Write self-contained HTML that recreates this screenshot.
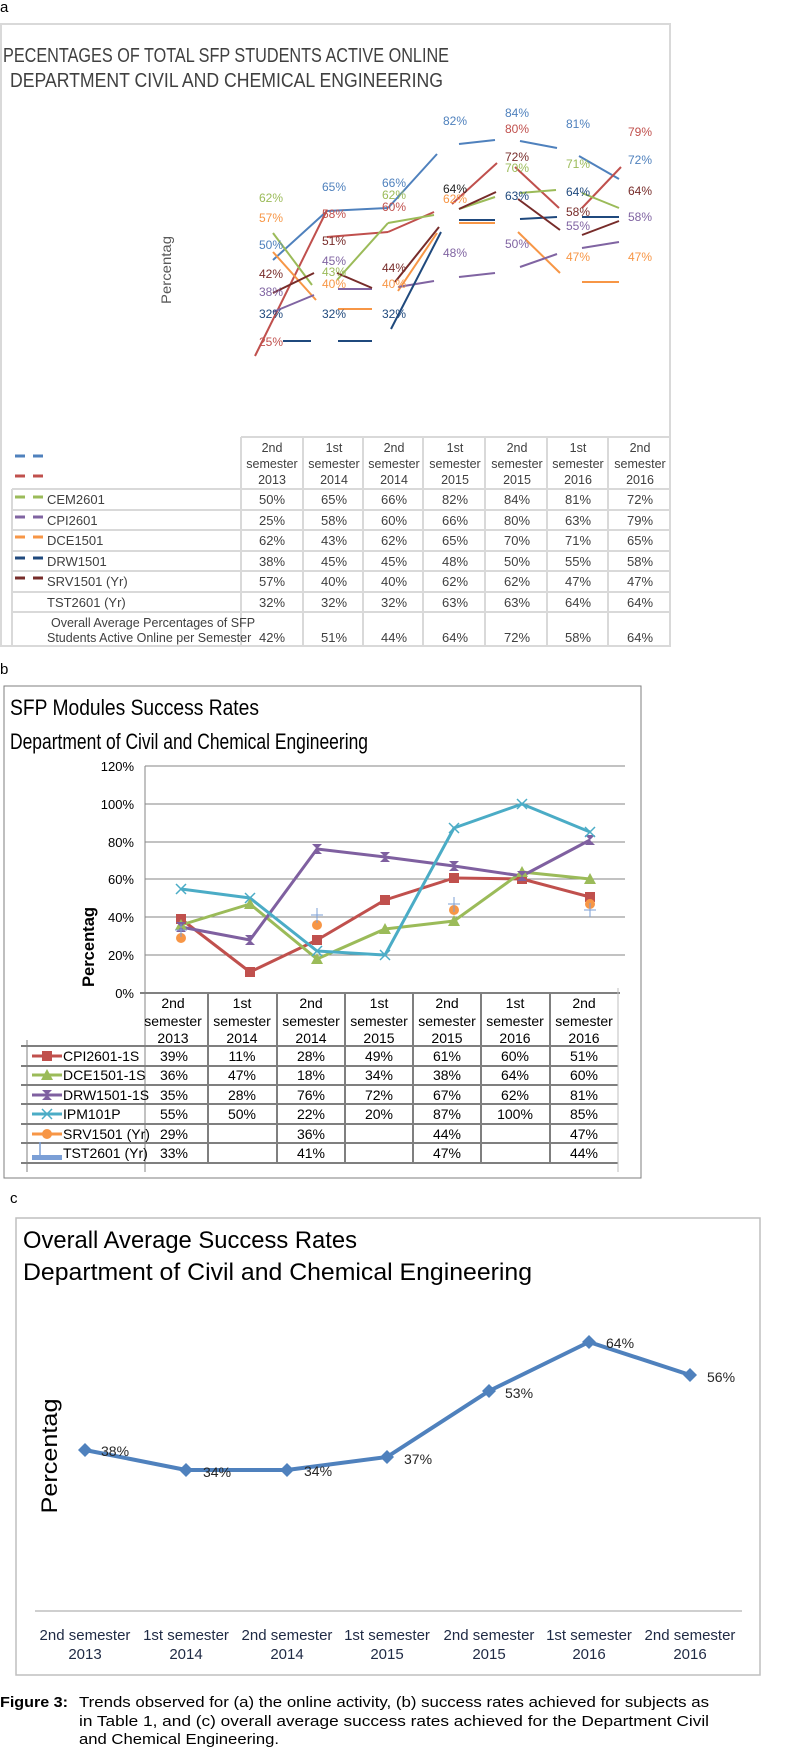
<!DOCTYPE html>
<html><head><meta charset="utf-8"><style>
html,body{margin:0;padding:0;background:#fff}
svg{display:block}
text{font-family:"Liberation Sans Narrow","Liberation Sans",sans-serif}
.c{font-family:"Liberation Sans",sans-serif}
</style></head><body>
<svg width="800" height="1763" viewBox="0 0 800 1763" xmlns="http://www.w3.org/2000/svg">
<!-- ================= PANEL A ================= -->
<text x="0" y="12" font-size="15" class="c" fill="#000">a</text>
<rect x="1" y="24" width="669" height="622" fill="#fff" stroke="#d9d9d9" stroke-width="2"/>
<text x="3" y="62" font-size="20" fill="#404040" textLength="446" lengthAdjust="spacingAndGlyphs">PECENTAGES OF TOTAL SFP STUDENTS ACTIVE ONLINE</text>
<text x="10" y="87" font-size="20" fill="#404040" textLength="433" lengthAdjust="spacingAndGlyphs">DEPARTMENT   CIVIL  AND  CHEMICAL ENGINEERING</text>
<text transform="translate(171,270) rotate(-90)" font-size="14" fill="#595959" text-anchor="middle" class="c" textLength="68" lengthAdjust="spacingAndGlyphs">Percentag</text>
<g stroke-width="2" fill="none" stroke-linecap="butt">
<!-- blue -->
<g stroke="#4f81bd"><line x1="273" y1="260" x2="327" y2="211"/><line x1="327" y1="211" x2="388" y2="208"/><line x1="388" y1="208" x2="437" y2="154"/><line x1="459" y1="144" x2="495" y2="140"/><line x1="520" y1="141" x2="557" y2="148"/><line x1="579" y1="156" x2="619" y2="179"/></g>
<!-- red -->
<g stroke="#c0504d"><line x1="255" y1="356" x2="327" y2="210"/><line x1="327" y1="237" x2="388" y2="232"/><line x1="388" y1="232" x2="434" y2="212"/><line x1="452" y1="204" x2="497" y2="163"/><line x1="515" y1="167" x2="559" y2="208"/><line x1="582" y1="208" x2="621" y2="167"/></g>
<!-- green -->
<g stroke="#9bbb59"><line x1="273" y1="233" x2="312" y2="285"/><line x1="337" y1="280" x2="388" y2="223"/><line x1="388" y1="223" x2="434" y2="215"/><line x1="459" y1="209" x2="495" y2="197"/><line x1="520" y1="193" x2="556" y2="190"/><line x1="582" y1="193" x2="619" y2="208"/></g>
<!-- orange -->
<g stroke="#f79646"><line x1="273" y1="252" x2="316" y2="300"/><line x1="338" y1="309" x2="372" y2="309"/><line x1="398" y1="291" x2="437" y2="233"/><line x1="459" y1="223" x2="495" y2="223"/><line x1="518" y1="232" x2="560" y2="273"/><line x1="582" y1="282" x2="619" y2="282"/></g>
<!-- purple -->
<g stroke="#8064a2"><line x1="273" y1="312" x2="314" y2="295"/><line x1="338" y1="289" x2="372" y2="289"/><line x1="398" y1="287" x2="434" y2="281"/><line x1="459" y1="277" x2="495" y2="273"/><line x1="520" y1="267" x2="557" y2="254"/><line x1="582" y1="248" x2="619" y2="242"/></g>
<!-- navy -->
<g stroke="#1f497d"><line x1="283" y1="341" x2="311" y2="341"/><line x1="338" y1="341" x2="372" y2="341"/><line x1="391" y1="329" x2="441" y2="232"/><line x1="459" y1="220" x2="495" y2="220"/><line x1="520" y1="219" x2="557" y2="217"/><line x1="582" y1="217" x2="619" y2="217"/></g>
<!-- dark red -->
<g stroke="#772c2a"><line x1="273" y1="293" x2="314" y2="273"/><line x1="337" y1="273" x2="372" y2="288"/><line x1="395" y1="282" x2="439" y2="227"/><line x1="459" y1="209" x2="496" y2="192"/><line x1="518" y1="199" x2="560" y2="230"/><line x1="582" y1="235" x2="619" y2="221"/></g>
</g>
<g font-size="12" text-anchor="middle">
<text x="271" y="202" fill="#9bbb59">62%</text><text x="271" y="222" fill="#f79646">57%</text><text x="271" y="249" fill="#4f81bd">50%</text><text x="271" y="278" fill="#772c2a">42%</text><text x="271" y="296" fill="#8064a2">38%</text><text x="271" y="318" fill="#1f497d">32%</text><text x="271" y="346" fill="#c0504d">25%</text>
<text x="334" y="191" fill="#4f81bd">65%</text><text x="334" y="218" fill="#c0504d">58%</text><text x="334" y="245" fill="#772c2a">51%</text><text x="334" y="265" fill="#8064a2">45%</text><text x="334" y="276" fill="#9bbb59">43%</text><text x="334" y="288" fill="#f79646">40%</text><text x="334" y="318" fill="#1f497d">32%</text>
<text x="394" y="187" fill="#4f81bd">66%</text><text x="394" y="199" fill="#9bbb59">62%</text><text x="394" y="211" fill="#c0504d">60%</text><text x="394" y="272" fill="#772c2a">44%</text><text x="394" y="288" fill="#f79646">40%</text><text x="394" y="318" fill="#1f497d">32%</text>
<text x="455" y="125" fill="#4f81bd">82%</text><text x="455" y="193" fill="#1f1f1f">64%</text><text x="455" y="203" fill="#f79646">62%</text><text x="455" y="257" fill="#8064a2">48%</text>
<text x="517" y="117" fill="#4f81bd">84%</text><text x="517" y="133" fill="#c0504d">80%</text><text x="517" y="161" fill="#772c2a">72%</text><text x="517" y="172" fill="#9bbb59">70%</text><text x="517" y="200" fill="#1f497d">63%</text><text x="517" y="248" fill="#8064a2">50%</text>
<text x="578" y="128" fill="#4f81bd">81%</text><text x="578" y="168" fill="#9bbb59">71%</text><text x="578" y="196" fill="#1f497d">64%</text><text x="578" y="216" fill="#772c2a">58%</text><text x="578" y="230" fill="#8064a2">55%</text><text x="578" y="261" fill="#f79646">47%</text>
<text x="640" y="136" fill="#c0504d">79%</text><text x="640" y="164" fill="#4f81bd">72%</text><text x="640" y="195" fill="#772c2a">64%</text><text x="640" y="221" fill="#8064a2">58%</text><text x="640" y="261" fill="#f79646">47%</text>
</g>
<!-- table a -->
<g stroke="#d9d9d9" stroke-width="2" fill="none">
<line x1="241" y1="437" x2="670" y2="437"/>
<line x1="12" y1="489" x2="670" y2="489"/><line x1="12" y1="510" x2="670" y2="510"/><line x1="12" y1="530" x2="670" y2="530"/><line x1="12" y1="551" x2="670" y2="551"/><line x1="12" y1="571" x2="670" y2="571"/><line x1="12" y1="592" x2="670" y2="592"/><line x1="12" y1="612" x2="670" y2="612"/>
<line x1="12" y1="489" x2="12" y2="646"/>
<line x1="241" y1="437" x2="241" y2="646"/><line x1="303" y1="437" x2="303" y2="646"/><line x1="363" y1="437" x2="363" y2="646"/><line x1="423" y1="437" x2="423" y2="646"/><line x1="485" y1="437" x2="485" y2="646"/><line x1="547" y1="437" x2="547" y2="646"/><line x1="608" y1="437" x2="608" y2="646"/>
</g>
<g stroke-width="3">
<line x1="15" y1="456" x2="25" y2="456" stroke="#4f81bd"/><line x1="33" y1="456" x2="43" y2="456" stroke="#4f81bd"/>
<line x1="15" y1="476" x2="25" y2="476" stroke="#c0504d"/><line x1="33" y1="476" x2="43" y2="476" stroke="#c0504d"/>
<line x1="15" y1="497" x2="25" y2="497" stroke="#9bbb59"/><line x1="33" y1="497" x2="43" y2="497" stroke="#9bbb59"/>
<line x1="15" y1="517" x2="25" y2="517" stroke="#8064a2"/><line x1="33" y1="517" x2="43" y2="517" stroke="#8064a2"/>
<line x1="15" y1="537" x2="25" y2="537" stroke="#f79646"/><line x1="33" y1="537" x2="43" y2="537" stroke="#f79646"/>
<line x1="15" y1="558" x2="25" y2="558" stroke="#1f497d"/><line x1="33" y1="558" x2="43" y2="558" stroke="#1f497d"/>
<line x1="15" y1="578" x2="25" y2="578" stroke="#772c2a"/><line x1="33" y1="578" x2="43" y2="578" stroke="#772c2a"/>
</g>
<g font-size="12.5" fill="#404040" text-anchor="middle">
<text x="272" y="452">2nd</text><text x="272" y="468">semester</text><text x="272" y="484">2013</text>
<text x="334" y="452">1st</text><text x="334" y="468">semester</text><text x="334" y="484">2014</text>
<text x="394" y="452">2nd</text><text x="394" y="468">semester</text><text x="394" y="484">2014</text>
<text x="455" y="452">1st</text><text x="455" y="468">semester</text><text x="455" y="484">2015</text>
<text x="517" y="452">2nd</text><text x="517" y="468">semester</text><text x="517" y="484">2015</text>
<text x="578" y="452">1st</text><text x="578" y="468">semester</text><text x="578" y="484">2016</text>
<text x="640" y="452">2nd</text><text x="640" y="468">semester</text><text x="640" y="484">2016</text>
</g>
<g font-size="13" fill="#404040">
<text x="47" y="504">CEM2601</text><text x="47" y="525">CPI2601</text><text x="47" y="545">DCE1501</text><text x="47" y="566">DRW1501</text><text x="47" y="586">SRV1501 (Yr)</text><text x="47" y="607">TST2601 (Yr)</text>
<text x="51" y="627" font-size="12.5">Overall Average Percentages of SFP</text><text x="47" y="642" font-size="12.5">Students Active Online per Semester</text>
</g>
<g font-size="13" fill="#404040" text-anchor="middle">
<text x="272" y="504">50%</text><text x="334" y="504">65%</text><text x="394" y="504">66%</text><text x="455" y="504">82%</text><text x="517" y="504">84%</text><text x="578" y="504">81%</text><text x="640" y="504">72%</text>
<text x="272" y="525">25%</text><text x="334" y="525">58%</text><text x="394" y="525">60%</text><text x="455" y="525">66%</text><text x="517" y="525">80%</text><text x="578" y="525">63%</text><text x="640" y="525">79%</text>
<text x="272" y="545">62%</text><text x="334" y="545">43%</text><text x="394" y="545">62%</text><text x="455" y="545">65%</text><text x="517" y="545">70%</text><text x="578" y="545">71%</text><text x="640" y="545">65%</text>
<text x="272" y="566">38%</text><text x="334" y="566">45%</text><text x="394" y="566">45%</text><text x="455" y="566">48%</text><text x="517" y="566">50%</text><text x="578" y="566">55%</text><text x="640" y="566">58%</text>
<text x="272" y="586">57%</text><text x="334" y="586">40%</text><text x="394" y="586">40%</text><text x="455" y="586">62%</text><text x="517" y="586">62%</text><text x="578" y="586">47%</text><text x="640" y="586">47%</text>
<text x="272" y="607">32%</text><text x="334" y="607">32%</text><text x="394" y="607">32%</text><text x="455" y="607">63%</text><text x="517" y="607">63%</text><text x="578" y="607">64%</text><text x="640" y="607">64%</text>
<text x="272" y="642">42%</text><text x="334" y="642">51%</text><text x="394" y="642">44%</text><text x="455" y="642">64%</text><text x="517" y="642">72%</text><text x="578" y="642">58%</text><text x="640" y="642">64%</text>
</g>

<!-- ================= PANEL B ================= -->
<text x="0" y="674" font-size="15" class="c" fill="#000">b</text>
<rect x="4" y="686" width="637" height="492" fill="#fff" stroke="#7f7f7f" stroke-width="1"/>
<text x="10" y="715" font-size="22" fill="#000" textLength="249" lengthAdjust="spacingAndGlyphs">SFP Modules Success Rates</text>
<text x="10" y="749" font-size="22" fill="#000" textLength="358" lengthAdjust="spacingAndGlyphs">Department of Civil and Chemical Engineering</text>
<g stroke="#868686" stroke-width="1">
<line x1="145" y1="766" x2="625" y2="766"/><line x1="145" y1="804" x2="625" y2="804"/><line x1="145" y1="842" x2="625" y2="842"/><line x1="145" y1="879" x2="625" y2="879"/><line x1="145" y1="917" x2="625" y2="917"/><line x1="145" y1="955" x2="625" y2="955"/>
</g>
<line x1="145" y1="766" x2="145" y2="1172" stroke="#868686" stroke-width="1"/>
<line x1="140" y1="993" x2="620" y2="993" stroke="#808080" stroke-width="2"/>
<g font-size="13" fill="#000" text-anchor="end">
<text x="134" y="771">120%</text><text x="134" y="809">100%</text><text x="134" y="847">80%</text><text x="134" y="884">60%</text><text x="134" y="922">40%</text><text x="134" y="960">20%</text><text x="134" y="998">0%</text>
</g>
<text transform="translate(94,947) rotate(-90)" font-size="17" font-weight="bold" class="c" text-anchor="middle" textLength="80" lengthAdjust="spacingAndGlyphs">Percentag</text>
<g fill="none" stroke-width="3" stroke-linejoin="round">
<polyline stroke="#c0504d" points="181,919 250,972 317,940 385,900 454,878 522,879 590,897"/>
<polyline stroke="#9bbb59" points="181,925 250,904 317,959 385,929 454,921 522,872 590,879"/>
<polyline stroke="#7f60a0" points="181,927 250,940 317,849 385,857 454,866 522,876 590,840"/>
<polyline stroke="#4bacc6" points="181,889 250,898 317,951 385,955 454,828 522,804 590,832"/>
</g>
<g fill="#c0504d"><rect x="176" y="914" width="10" height="10"/><rect x="245" y="967" width="10" height="10"/><rect x="312" y="935" width="10" height="10"/><rect x="380" y="895" width="10" height="10"/><rect x="449" y="873" width="10" height="10"/><rect x="517" y="874" width="10" height="10"/><rect x="585" y="892" width="10" height="10"/></g>
<g fill="#9bbb59"><polygon points="181,919 187,930 175,930"/><polygon points="250,898 256,909 244,909"/><polygon points="317,953 323,964 311,964"/><polygon points="385,923 391,934 379,934"/><polygon points="454,915 460,926 448,926"/><polygon points="522,866 528,877 516,877"/><polygon points="590,873 596,884 584,884"/></g>
<g fill="#7f60a0"><polygon points="176,922 186,922 176,932 186,932"/><polygon points="245,935 255,935 245,945 255,945"/><polygon points="312,844 322,844 312,854 322,854"/><polygon points="380,852 390,852 380,862 390,862"/><polygon points="449,861 459,861 449,871 459,871"/><polygon points="517,871 527,871 517,881 527,881"/><polygon points="585,835 595,835 585,845 595,845"/></g>
<g stroke="#4bacc6" stroke-width="1.5"><path d="M176,884l10,10M186,884l-10,10M245,893l10,10M255,893l-10,10M312,946l10,10M322,946l-10,10M380,950l10,10M390,950l-10,10M449,823l10,10M459,823l-10,10M517,799l10,10M527,799l-10,10M585,827l10,10M595,827l-10,10"/></g>
<g fill="#f79646"><circle cx="181" cy="938" r="5"/><circle cx="317" cy="925" r="5"/><circle cx="454" cy="910" r="5"/><circle cx="590" cy="904" r="5"/></g>
<g stroke="#7b9fd6" stroke-width="1"><path d="M181,924v13M175,930h12M317,908v15M311,915h12M454,897v15M448,904h12M590,903v14M584,910h12"/></g>
<!-- table b -->
<g stroke="#7f7f7f" stroke-width="2">
<line x1="21" y1="1046" x2="618" y2="1046"/><line x1="21" y1="1066" x2="618" y2="1066"/><line x1="21" y1="1085" x2="618" y2="1085"/><line x1="21" y1="1104" x2="618" y2="1104"/><line x1="21" y1="1124" x2="618" y2="1124"/><line x1="21" y1="1143" x2="618" y2="1143"/><line x1="21" y1="1163" x2="618" y2="1163"/>
<line x1="208" y1="993" x2="208" y2="1163"/><line x1="277" y1="993" x2="277" y2="1163"/><line x1="345" y1="993" x2="345" y2="1163"/><line x1="413" y1="993" x2="413" y2="1163"/><line x1="481" y1="993" x2="481" y2="1163"/><line x1="550" y1="993" x2="550" y2="1163"/>
</g>
<line x1="27" y1="1040" x2="27" y2="1172" stroke="#7f7f7f" stroke-width="1"/>
<line x1="618" y1="988" x2="618" y2="1172" stroke="#bfbfbf" stroke-width="1"/>
<g font-size="14" fill="#000" text-anchor="middle">
<text x="173" y="1008">2nd</text><text x="173" y="1026">semester</text><text x="173" y="1043">2013</text>
<text x="242" y="1008">1st</text><text x="242" y="1026">semester</text><text x="242" y="1043">2014</text>
<text x="311" y="1008">2nd</text><text x="311" y="1026">semester</text><text x="311" y="1043">2014</text>
<text x="379" y="1008">1st</text><text x="379" y="1026">semester</text><text x="379" y="1043">2015</text>
<text x="447" y="1008">2nd</text><text x="447" y="1026">semester</text><text x="447" y="1043">2015</text>
<text x="515" y="1008">1st</text><text x="515" y="1026">semester</text><text x="515" y="1043">2016</text>
<text x="584" y="1008">2nd</text><text x="584" y="1026">semester</text><text x="584" y="1043">2016</text>
</g>
<!-- legend markers -->
<line x1="32" y1="1056" x2="62" y2="1056" stroke="#c0504d" stroke-width="3"/><rect x="42" y="1051" width="10" height="10" fill="#c0504d"/>
<line x1="32" y1="1075" x2="62" y2="1075" stroke="#9bbb59" stroke-width="3"/><polygon points="47,1069 53,1080 41,1080" fill="#9bbb59"/>
<line x1="32" y1="1095" x2="62" y2="1095" stroke="#7f60a0" stroke-width="3"/><polygon points="42,1090 52,1090 42,1100 52,1100" fill="#7f60a0"/>
<line x1="32" y1="1114" x2="62" y2="1114" stroke="#4bacc6" stroke-width="3"/><path d="M42,1109l10,10M52,1109l-10,10" stroke="#4bacc6" stroke-width="1.5"/>
<line x1="32" y1="1134" x2="62" y2="1134" stroke="#f79646" stroke-width="3"/><circle cx="47" cy="1134" r="5" fill="#f79646"/>
<line x1="40" y1="1142" x2="40" y2="1155" stroke="#7b9fd6" stroke-width="1.5"/><rect x="32" y="1155" width="30" height="5" fill="#7b9fd6"/>
<g font-size="14" fill="#000">
<text x="63" y="1061">CPI2601-1S</text><text x="63" y="1080">DCE1501-1S</text><text x="63" y="1100">DRW1501-1S</text><text x="63" y="1119">IPM101P</text><text x="63" y="1139">SRV1501 (Yr)</text><text x="63" y="1158">TST2601 (Yr)</text>
</g>
<g font-size="14" fill="#000" text-anchor="middle">
<text x="174" y="1061">39%</text><text x="242" y="1061">11%</text><text x="311" y="1061">28%</text><text x="379" y="1061">49%</text><text x="447" y="1061">61%</text><text x="515" y="1061">60%</text><text x="584" y="1061">51%</text>
<text x="174" y="1080">36%</text><text x="242" y="1080">47%</text><text x="311" y="1080">18%</text><text x="379" y="1080">34%</text><text x="447" y="1080">38%</text><text x="515" y="1080">64%</text><text x="584" y="1080">60%</text>
<text x="174" y="1100">35%</text><text x="242" y="1100">28%</text><text x="311" y="1100">76%</text><text x="379" y="1100">72%</text><text x="447" y="1100">67%</text><text x="515" y="1100">62%</text><text x="584" y="1100">81%</text>
<text x="174" y="1119">55%</text><text x="242" y="1119">50%</text><text x="311" y="1119">22%</text><text x="379" y="1119">20%</text><text x="447" y="1119">87%</text><text x="515" y="1119">100%</text><text x="584" y="1119">85%</text>
<text x="174" y="1139">29%</text><text x="311" y="1139">36%</text><text x="447" y="1139">44%</text><text x="584" y="1139">47%</text>
<text x="174" y="1158">33%</text><text x="311" y="1158">41%</text><text x="447" y="1158">47%</text><text x="584" y="1158">44%</text>
</g>

<!-- ================= PANEL C ================= -->
<text x="10" y="1203" font-size="15" class="c" fill="#000">c</text>
<rect x="16" y="1218" width="744" height="457" fill="#fff" stroke="#bfbfbf" stroke-width="1.5"/>
<text x="23" y="1248" font-size="24" fill="#000" textLength="334" lengthAdjust="spacingAndGlyphs">Overall Average Success Rates</text>
<text x="23" y="1280" font-size="24" fill="#000" textLength="509" lengthAdjust="spacingAndGlyphs">Department of Civil and Chemical Engineering</text>
<text transform="translate(57,1456) rotate(-90)" font-size="22" class="c" text-anchor="middle" fill="#000" textLength="115" lengthAdjust="spacingAndGlyphs">Percentag</text>
<line x1="35" y1="1611" x2="742" y2="1611" stroke="#bfbfbf" stroke-width="1.5"/>
<polyline fill="none" stroke="#4f81bd" stroke-width="4" stroke-linejoin="round" points="85,1450 186,1470 287,1470 387,1457 489,1391 589,1342 690,1375"/>
<g fill="#4f81bd">
<polygon points="85,1443 92,1450 85,1457 78,1450"/><polygon points="186,1463 193,1470 186,1477 179,1470"/><polygon points="287,1463 294,1470 287,1477 280,1470"/><polygon points="387,1450 394,1457 387,1464 380,1457"/><polygon points="489,1384 496,1391 489,1398 482,1391"/><polygon points="589,1335 596,1342 589,1349 582,1342"/><polygon points="690,1368 697,1375 690,1382 683,1375"/>
</g>
<g font-size="14" fill="#262626" class="c">
<text x="101" y="1456">38%</text><text x="203" y="1477">34%</text><text x="304" y="1476">34%</text><text x="404" y="1464">37%</text><text x="505" y="1398">53%</text><text x="606" y="1348">64%</text><text x="707" y="1382">56%</text>
</g>
<g font-size="15" fill="#1f2a44" text-anchor="middle">
<text x="85" y="1640">2nd semester</text><text x="85" y="1659">2013</text>
<text x="186" y="1640">1st semester</text><text x="186" y="1659">2014</text>
<text x="287" y="1640">2nd semester</text><text x="287" y="1659">2014</text>
<text x="387" y="1640">1st semester</text><text x="387" y="1659">2015</text>
<text x="489" y="1640">2nd semester</text><text x="489" y="1659">2015</text>
<text x="589" y="1640">1st semester</text><text x="589" y="1659">2016</text>
<text x="690" y="1640">2nd semester</text><text x="690" y="1659">2016</text>
</g>

<!-- caption -->
<text x="0" y="1707" font-size="15" font-weight="bold" fill="#000" textLength="68" lengthAdjust="spacingAndGlyphs">Figure 3:</text>
<text x="79" y="1707" font-size="15" fill="#000" textLength="630" lengthAdjust="spacingAndGlyphs">Trends observed for (a) the online activity, (b) success rates achieved for subjects as</text>
<text x="79" y="1726" font-size="15" fill="#000" textLength="630" lengthAdjust="spacingAndGlyphs">in Table 1, and (c) overall average success rates achieved for the Department Civil</text>
<text x="79" y="1744" font-size="15" fill="#000" textLength="200" lengthAdjust="spacingAndGlyphs">and Chemical Engineering.</text>
</svg>
</body></html>
